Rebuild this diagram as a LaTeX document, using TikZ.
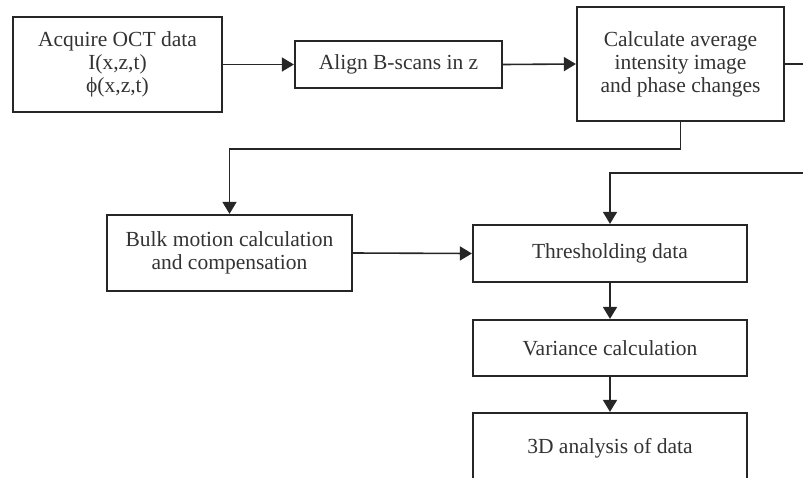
\documentclass[tikz,border=0pt]{standalone}
\usepackage{fontspec}
\setmainfont{Liberation Serif}
\usetikzlibrary{arrows.meta}
\begin{document}
\begin{tikzpicture}[x=1pt,y=-1pt,
  box/.style={draw=black!85,line width=2.2pt,fill=white,inner sep=0pt,align=center,
    font=\fontsize{21.5}{23}\selectfont,text=black!80},
  conn/.style={draw=black!85,line width=1.6pt,-{Triangle[length=12pt,width=14pt]}},
  plain/.style={draw=black!85,line width=1.6pt}]
\useasboundingbox (0,0) rectangle (803,477);
\clip (0,0) rectangle (803,477);
\node[box,minimum width=209pt,minimum height=95pt] (acq) at (117.5,64.5) {Acquire OCT data\\I(x,z,t)\\ϕ(x,z,t)};
\node[box,minimum width=207pt,minimum height=47pt] (align) at (398.5,64.5) {Align B-scans in z};
\node[box,minimum width=207pt,minimum height=114pt] (calc) at (680.5,64) {Calculate average\\intensity image\\and phase changes};
\node[box,minimum width=245pt,minimum height=76pt] (bulk) at (229.5,253) {Bulk motion calculation\\and compensation};
\node[box,minimum width=274pt,minimum height=57pt] (thr) at (610,253.5) {Thresholding data};
\node[box,minimum width=274pt,minimum height=56pt] (var) at (610,348) {Variance calculation};
\node[box,minimum width=274pt,minimum height=70pt] (ana) at (610,448) {3D analysis of data};
\coordinate (outR) at (806,64);
\coordinate (inR) at (806,173);
\draw[conn] (acq.east) -- (align.west);
\draw[conn] (align.east) -- (calc.west);
\draw[plain] (calc.east) -- (outR);
\draw[conn] (calc.south) -- ++(0,27) -| (bulk.north);
\draw[conn] (inR) -| (thr.north);
\draw[conn] (bulk.east) -- (thr.west);
\draw[conn] (thr.south) -- (var.north);
\draw[conn] (var.south) -- (ana.north);
\end{tikzpicture}
\end{document}
